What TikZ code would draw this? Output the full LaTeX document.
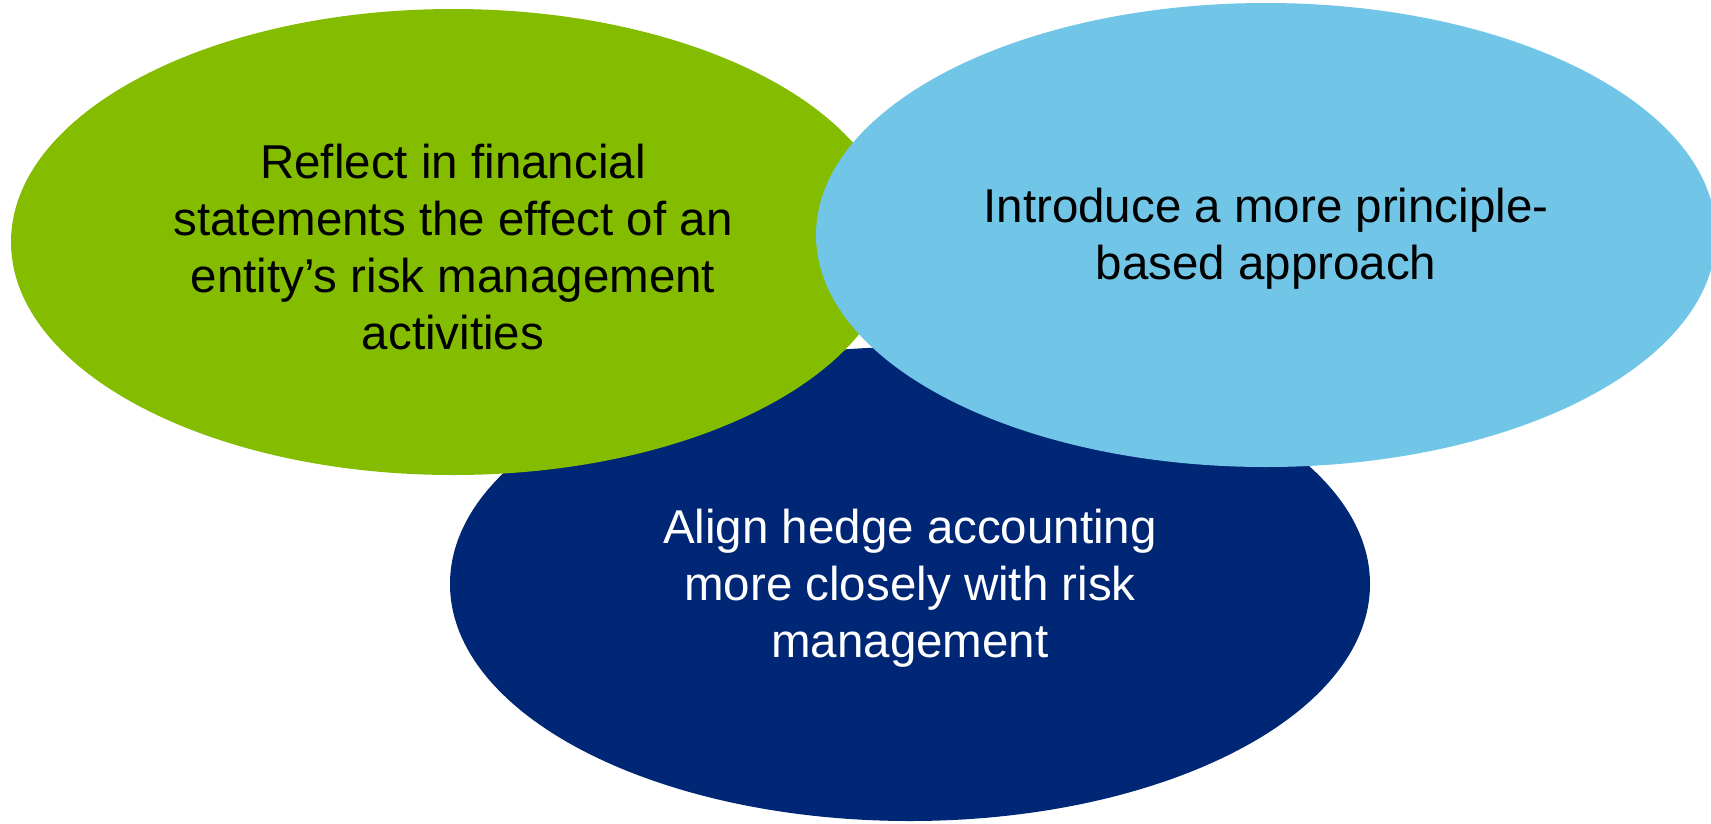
\documentclass[tikz,border=0pt]{standalone}
\usepackage{fontspec}
\setmainfont{Liberation Sans}
\usetikzlibrary{shapes.geometric}
\definecolor{cgreen}{HTML}{84BD00}
\definecolor{cblue}{HTML}{71C5E6}
\definecolor{cnavy}{HTML}{002776}
\begin{document}
\begin{tikzpicture}[x=1pt,y=-1pt,
  blob/.style={ellipse, inner sep=0pt, outer sep=0pt, draw=none},
  label text/.style={align=center, inner sep=0pt, yshift=-4pt,
    font=\fontsize{47.5}{57}\selectfont}]
\useasboundingbox (0,0) rectangle (1711,823);
\fill[white] (0,0) rectangle (1711,823);
\node[blob, fill=cnavy, minimum width=920pt, minimum height=474pt] (navy) at (910,584) {};
\node[label text, text=white] (navytext) at (navy.center)
  {Align hedge accounting\\more closely with risk\\management};
\node[blob, fill=cgreen, minimum width=884pt, minimum height=466pt] (green) at (453,242) {};
\node[label text, text=black, yshift=-1pt] (greentext) at (green.center)
  {Reflect in financial\\statements the effect of an\\entity’s risk management\\activities};
\node[blob, fill=cblue, minimum width=900pt, minimum height=464pt] (blue) at (1266,235) {};
\node[label text, text=black] (bluetext) at (blue.center)
  {Introduce a more principle-\\based approach};
\end{tikzpicture}
\end{document}
